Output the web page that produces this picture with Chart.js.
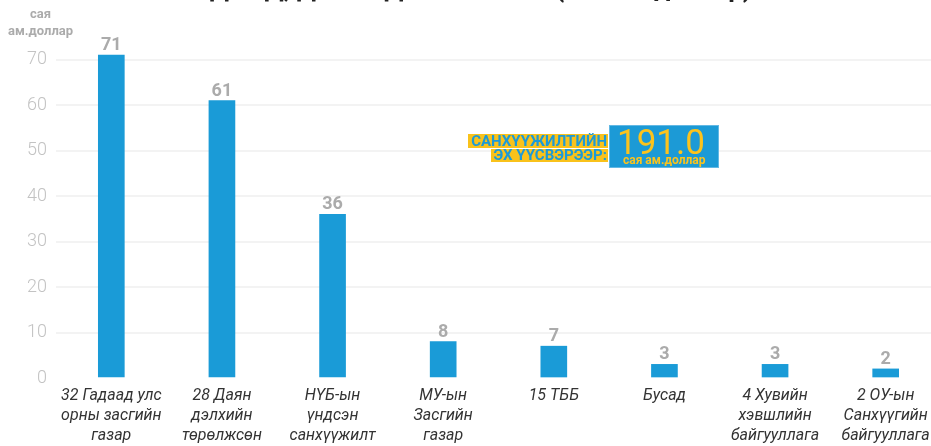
<!DOCTYPE html>
<html>
<head>
<meta charset="utf-8">
<script src="https://cdn.jsdelivr.net/npm/chart.js@4.4.0/dist/chart.umd.min.js"></script>
<style>
body { margin: 0; width: 931px; height: 446px; overflow: hidden; background: #fff; position: relative; font-family: Roboto, sans-serif; }
#chart { position: absolute; left: 0; top: 0; }
#title { position: absolute; right: 179px; top: -27px; font: bold 26px Roboto; line-height: 30px; color: #222; white-space: nowrap; }
#unit { position: absolute; left: 0; top: 5px; width: 81px; text-align: center; font: bold 13px Roboto; line-height: 17px; color: #ababab; }
.hl { position: absolute; right: 323px; background: #f9c21b; color: #1d9ad6; font: bold 15px Roboto; white-space: nowrap; padding: 0 1px 0 3px; }
#box { position: absolute; left: 609px; top: 125px; width: 110px; height: 43px; background: #1c9ad6; box-sizing: border-box; border: 1px solid #62b8e4; }
#total { position: absolute; left: 7px; top: -1px; font: 35px Roboto; line-height: 35px; color: #fcc31c; }
#totalUnit { position: absolute; left: 13px; top: 28px; font: bold 12px Roboto; line-height: 12px; color: #fcc31c; white-space: nowrap; }
</style>
</head>
<body>
<canvas id="chart" width="941" height="454"></canvas>
<div id="title">ГАДААД, ДОТООД ЭХ ҮҮСВЭР (сая ам.доллар)</div>
<div id="unit">сая<br>ам.доллар</div>
<div class="hl" style="top:134px; line-height:14px;">САНХҮҮЖИЛТИЙН</div>
<div class="hl" style="top:149px; line-height:13px;">ЭХ ҮҮСВЭРЭЭР:</div>
<div id="box"><div id="total">191.0</div><div id="totalUnit">сая ам.доллар</div></div>
<script>
const categories = [
    ['32 Гадаад улс', 'орны засгийн', 'газар'],
    ['28 Даян', 'дэлхийн', 'төрөлжсөн'],
    ['НҮБ-ын', 'үндсэн', 'санхүүжилт'],
    ['МУ-ын', 'Засгийн', 'газар'],
    '15 ТББ',
    'Бусад',
    ['4 Хувийн', 'хэвшлийн', 'байгууллага'],
    ['2 ОУ-ын', 'Санхүүгийн', 'байгууллага']
];
const amounts = [71, 61, 36, 8, 7, 3, 3, 2];
const yTicks = [0, 10, 20, 30, 40, 50, 60, 70];

// numbers above the bars
const barValueLabels = {
    id: 'barValueLabels',
    afterDatasetsDraw(chart) {
        const ctx = chart.ctx;
        const meta = chart.getDatasetMeta(0);
        ctx.save();
        ctx.font = 'bold 18px Roboto';
        ctx.fillStyle = '#ababab';
        ctx.textAlign = 'center';
        ctx.textBaseline = 'alphabetic';
        meta.data.forEach((bar, i) => {
            ctx.fillText(amounts[i], bar.x, bar.y - 5);
        });
        ctx.restore();
    }
};

const ctx = document.getElementById('chart').getContext('2d');
new Chart(ctx, {
    type: 'bar',
    data: {
        labels: categories,
        datasets: [{
            data: amounts,
            backgroundColor: '#1a9bd7',
            barThickness: 26
        }]
    },
    options: {
        responsive: false,
        animation: false,
        layout: { padding: { top: 37, left: 0, right: 0, bottom: 0 } },
        plugins: {
            legend: { display: false },
            tooltip: { enabled: false }
        },
        scales: {
            x: {
                grid: { display: false, drawTicks: false },
                border: { display: false },
                ticks: {
                    padding: 8,
                    color: '#333',
                    maxRotation: 0,
                    autoSkip: false,
                    font: { family: 'Roboto', size: 16, style: 'italic', lineHeight: 1.25 }
                }
            },
            y: {
                min: 0,
                max: 75,
                afterBuildTicks: function (scale) {
                    scale.ticks = yTicks.map(v => ({ value: v }));
                },
                afterFit: function (scale) {
                    scale.width = 56;
                },
                border: { display: false },
                grid: {
                    drawTicks: false,
                    lineWidth: 2,
                    color: c => (c.tick && c.tick.value === 0) ? 'rgba(0,0,0,0)' : '#f3f3f3'
                },
                ticks: {
                    padding: 9,
                    color: '#c3c3c3',
                    font: { family: 'Roboto', size: 18, weight: '300' }
                }
            }
        }
    },
    plugins: [barValueLabels]
});
</script>
</body>
</html>
